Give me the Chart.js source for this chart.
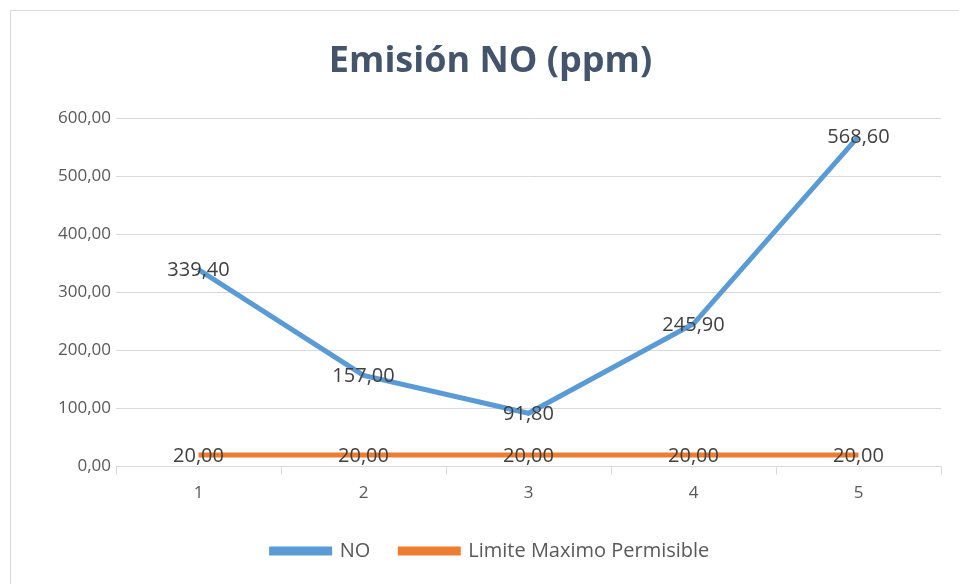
<!DOCTYPE html>
<html>
<head>
<meta charset="utf-8">
<script src="https://cdn.jsdelivr.net/npm/chart.js@4/dist/chart.umd.min.js"></script>
<style>
  html,body{margin:0;padding:0;background:#fff;}
  #wrap{position:absolute;left:0;top:0;width:959px;height:584px;}
  #frame{position:absolute;left:10px;top:10px;width:960px;height:580px;border:1px solid #d9d9d9;box-sizing:border-box;}
</style>
</head>
<body>
<div id="wrap">
  <div id="frame"></div>
  <canvas id="chart" width="959" height="584"></canvas>
</div>
<script>
// ----------------- Data -----------------
const categories = ["1","2","3","4","5"];
const noValues = [339.4, 157.0, 91.8, 245.9, 568.6];
const limitValues = [20, 20, 20, 20, 20];
const yTicks = [0, 100, 200, 300, 400, 500, 600];

const fmt = v => v.toFixed(2).replace(".", ",");
const textColor = "#595959";

// ----------------- Data labels -----------------
const pointLabels = {
  id: "pointLabels",
  afterDatasetsDraw(chart){
    const ctx = chart.ctx;
    ctx.save();
    ctx.font = "20px 'Open Sans'";
    ctx.fillStyle = "#404040";
    ctx.textAlign = "center";
    ctx.textBaseline = "middle";
    chart.data.datasets.forEach((ds, i)=>{
      chart.getDatasetMeta(i).data.forEach((pt, j)=>{
        ctx.fillText(fmt(ds.data[j]), pt.x, pt.y + 1);
      });
    });
    ctx.restore();
  }
};

new Chart(document.getElementById("chart"), {
  type: "line",
  data: {
    labels: categories,
    datasets: [
      {label:"NO", data:noValues, borderColor:"#5b9bd5", backgroundColor:"#5b9bd5",
       borderWidth:5, pointRadius:0, tension:0},
      {label:"Limite Maximo Permisible", data:limitValues, borderColor:"#ed7d31", backgroundColor:"#ed7d31",
       borderWidth:5, pointRadius:0, tension:0}
    ]
  },
  options: {
    responsive:false,
    animation:false,
    // left padding keeps title and legend centred on the frame, like the original
    layout:{padding:{left:40,right:18,top:0,bottom:13}},
    plugins:{
      title:{display:true, text:"Emisión NO (ppm)", color:"#44546a",
        font:{family:"'Open Sans'", size:36, weight:"bold"}, padding:{top:40,bottom:35}},
      legend:{position:"bottom",
        labels:{boxWidth:58, boxHeight:4, color:textColor, padding:30,
          font:{family:"'Open Sans'", size:20}}},
      tooltip:{enabled:false}
    },
    scales:{
      x:{
        offset:true,
        grid:{offset:true, drawOnChartArea:false, drawTicks:true, tickLength:8, color:"#d9d9d9"},
        border:{color:"#d9d9d9"},
        ticks:{color:textColor, font:{family:"'Open Sans'", size:17}, padding:8}
      },
      y:{
        min:0, max:600,
        afterBuildTicks: s => { s.ticks = yTicks.map(v=>({value:v})); },
        afterFit: s => { s.width = 76; },
        grid:{color:"#d9d9d9", drawTicks:false},
        border:{display:false},
        ticks:{color:textColor, font:{family:"'Open Sans'", size:17}, padding:5,
          callback: v => fmt(v)}
      }
    }
  },
  plugins:[pointLabels]
});
</script>
</body>
</html>
